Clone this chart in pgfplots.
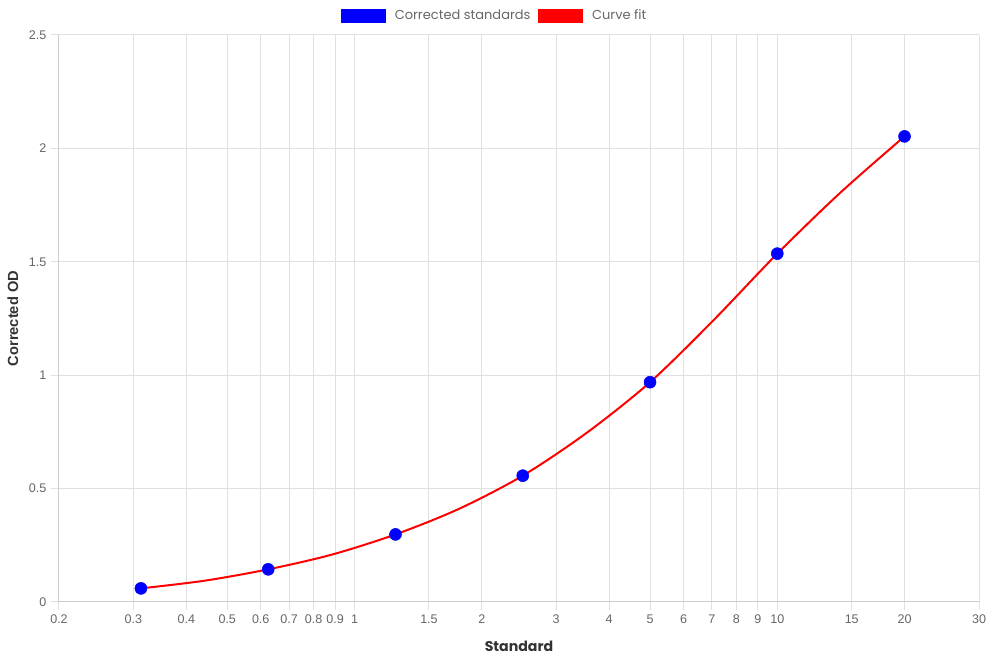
\documentclass[border=0pt]{standalone}
\usepackage{pgfplots}
\pgfplotsset{compat=1.18}
\usepackage{fontspec}
\setmainfont{Poppins}
\newfontfamily\arial{Liberation Sans}
\definecolor{gridc}{HTML}{E0E0E0}
\definecolor{axisc}{HTML}{CCCCCC}
\definecolor{txt}{HTML}{666666}
\definecolor{ttl}{HTML}{333333}
\begin{document}
\begin{tikzpicture}
\useasboundingbox (-44.25pt,-43.5pt) rectangle (698.25pt,451.5pt);
\begin{axis}[
  at={(0,0)}, anchor=south west,
  scale only axis, width=690pt, height=425.25pt,
  xmode=log, xmin=0.2, xmax=30, ymin=0, ymax=2.5,
  xtick={0.2,0.3,0.4,0.5,0.6,0.7,0.8,0.9,1,1.5,2,3,4,5,6,7,8,9,10,15,20,30},
  xticklabels={0.2,0.3,0.4,0.5,0.6,0.7,0.8,0.9,1,1.5,2,3,4,5,6,7,8,9,10,15,20,30},
  xminorticks=false,
  ytick={0,0.5,1,1.5,2,2.5},
  yticklabels={0,0.5,1,1.5,2,2.5},
  grid=major,
  major grid style={draw=gridc, line width=0.75pt},
  axis x line=bottom, axis y line=left,
  axis line style={-, draw=axisc, line width=0.75pt},
  tick style={draw=gridc, line width=0.75pt},
  tick align=outside, major tick length=6pt,
  tick label style={font=\arial\fontsize{9.4}{11}\selectfont, text=txt},
  xlabel={Standard}, ylabel={Corrected OD},
  xlabel style={font=\bfseries\fontsize{10.6}{12}\selectfont, text=ttl,
    at={(axis description cs:0.5,-0.0776)}, anchor=center},
  ylabel style={font=\arial\bfseries\fontsize{11}{13}\selectfont, text=ttl,
    at={(axis description cs:-0.05,0.5)}, anchor=center},
  legend style={at={(axis description cs:0.474,1.0335)}, anchor=center,
    draw=none, fill=none, legend columns=2,
    font=\fontsize{9.75}{11}\selectfont, text=txt,
    /tikz/every even column/.append style={column sep=4pt},
    nodes={inner xsep=2pt}},
]
\addlegendimage{legend image code/.code={\fill[blue] (-2pt,-5pt) rectangle (31pt,5pt); \path[draw=none,fill=none] (31pt,0pt) -- (36pt,0pt);}}
\addlegendentry{Corrected standards}
\addlegendimage{legend image code/.code={\fill[red] (-2pt,-5pt) rectangle (31pt,5pt); \path[draw=none,fill=none] (31pt,0pt) -- (36pt,0pt);}}
\addlegendentry{Curve fit}
\addplot[red, line width=1.5pt, smooth, forget plot] coordinates {
(0.3125,0.060) (0.442,0.094) (0.625,0.144) (0.884,0.209) (1.25,0.298)
(1.768,0.411) (2.5,0.557) (3.536,0.745) (5,0.969) (7.071,1.243)
(10,1.536) (14.14,1.807) (20,2.053)};
\addplot[only marks, mark=*, mark size=4.5pt, blue, mark options={fill=blue, draw=blue}, forget plot] coordinates {
(0.3125,0.060) (0.625,0.144) (1.25,0.298) (2.5,0.557) (5,0.969) (10,1.536) (20,2.053)};
\end{axis}
\end{tikzpicture}
\end{document}
